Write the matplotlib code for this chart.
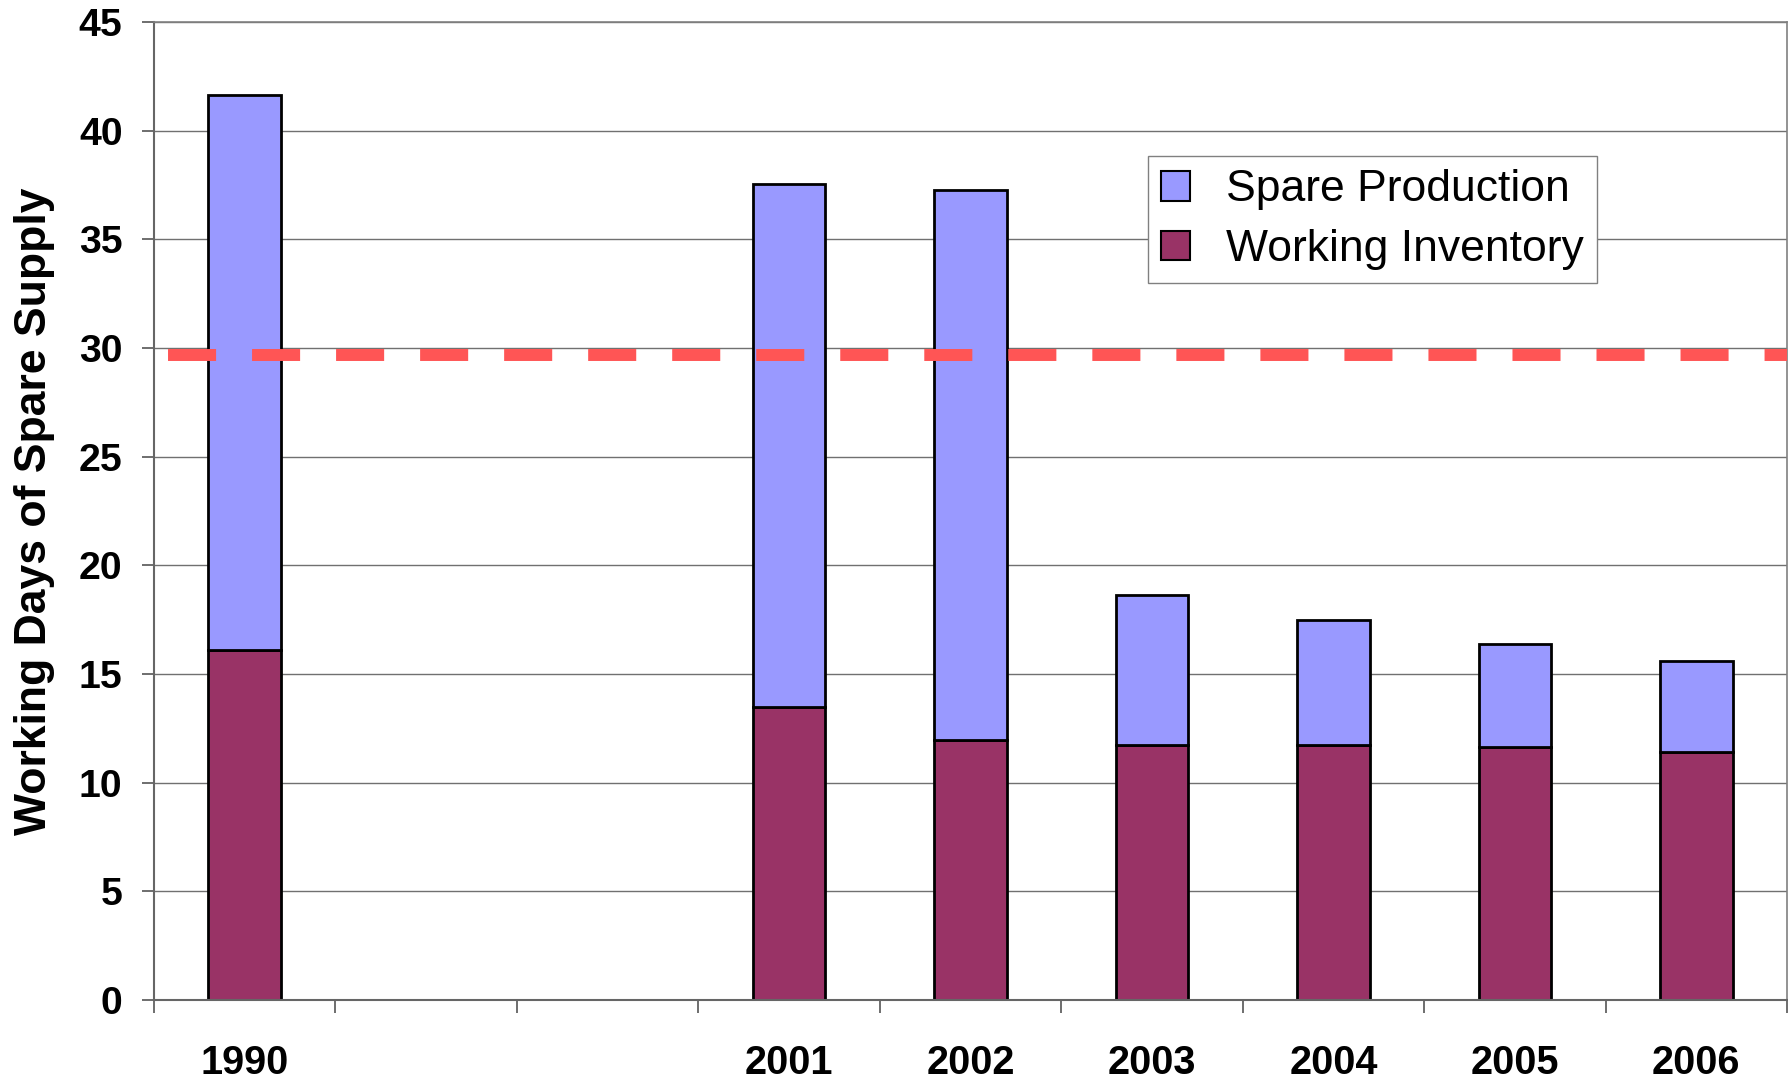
import numpy as np
import matplotlib
matplotlib.use("Agg")
import matplotlib.pyplot as plt
from matplotlib.patches import Patch

plt.rcParams['font.family'] = ['Liberation Sans', 'DejaVu Sans']
plt.rcParams['lines.scale_dashes'] = False

# Category slots along the x axis (two empty slots between 1990 and 2001)
categories = ['1990', '', '', '2001', '2002', '2003', '2004', '2005', '2006']
working_inventory = [16.1, None, None, 13.5, 11.95, 11.75, 11.75, 11.65, 11.4]
total_supply = [41.65, None, None, 37.55, 37.25, 18.65, 17.5, 16.4, 15.6]
reference_level = 29.7

y_ticks = [0, 5, 10, 15, 20, 25, 30, 35, 40, 45]

W, H = 1788, 1079
fig = plt.figure(figsize=(W / 100, H / 100), dpi=100)
ax = fig.add_axes([154 / W, 1 - 1000 / H, (1787 - 154) / W, (1000 - 22) / H])

idx = [i for i, v in enumerate(working_inventory) if v is not None]
inv = np.array([working_inventory[i] for i in idx])
spare = np.array([total_supply[i] for i in idx]) - inv

blue = '#9999FF'
plum = '#993366'
bw = 0.40
ax.bar(idx, inv, width=bw, color=plum, edgecolor='black', linewidth=2.0, zorder=2)
ax.bar(idx, spare, bottom=inv, width=bw, color=blue, edgecolor='black',
       linewidth=2.0, zorder=2)

# Red dashed reference line
ax.axhline(reference_level, color='#FF5555', linewidth=8.6,
           linestyle=(50.4, (34.6, 25.9)), dash_capstyle='butt', zorder=3)

ax.set_xlim(-0.5, len(categories) - 0.5)
ax.set_ylim(0, 45)
ax.set_yticks(y_ticks)
ax.set_yticklabels([str(v) for v in y_ticks], fontsize=28.3, fontweight='bold')
ax.yaxis.grid(True, color='#707070', linewidth=1.0, zorder=0)
ax.set_axisbelow(True)

# Ticks at slot boundaries, labels at slot centers
ax.set_xticks(np.arange(-0.5, len(categories), 1.0))
ax.set_xticklabels([])
ax.set_xticks(np.arange(len(categories)), minor=True)
ax.set_xticklabels(categories, minor=True, fontsize=28.5, fontweight='bold')
ax.tick_params(axis='x', which='major', length=9, width=1.2, color='#555555', direction='out')
ax.tick_params(axis='x', which='minor', length=0, pad=31.5)
ax.tick_params(axis='y', length=8.6, width=1.2, color='#555555', direction='out', pad=14)

for side in ['left', 'bottom']:
    ax.spines[side].set_color('#666666')
    ax.spines[side].set_linewidth(1.5)
for side in ['top', 'right']:
    ax.spines[side].set_color('#808080')
    ax.spines[side].set_linewidth(1.2)

fig.text(35 / W, 1 - 511 / H, 'Working Days of Spare Supply', rotation=90,
         ha='center', va='center', fontsize=32, fontweight='bold')

handles = [Patch(facecolor=blue, edgecolor='black', linewidth=1.5),
           Patch(facecolor=plum, edgecolor='black', linewidth=1.5)]
leg = fig.legend(handles, ['Spare Production', 'Working Inventory'],
                 loc='upper left', bbox_to_anchor=(1148 / W, 1 - 156 / H),
                 fontsize=32, frameon=True, fancybox=False, shadow=False,
                 handlelength=0.65, handleheight=0.65, handletextpad=0.8,
                 borderpad=0.3, labelspacing=0.42, borderaxespad=0)
leg.get_frame().set_edgecolor('#808080')
leg.get_frame().set_linewidth(1.0)
leg.get_frame().set_facecolor('white')
leg.get_frame().set_alpha(1)

fig.savefig('out.png', dpi=100, facecolor='white')
